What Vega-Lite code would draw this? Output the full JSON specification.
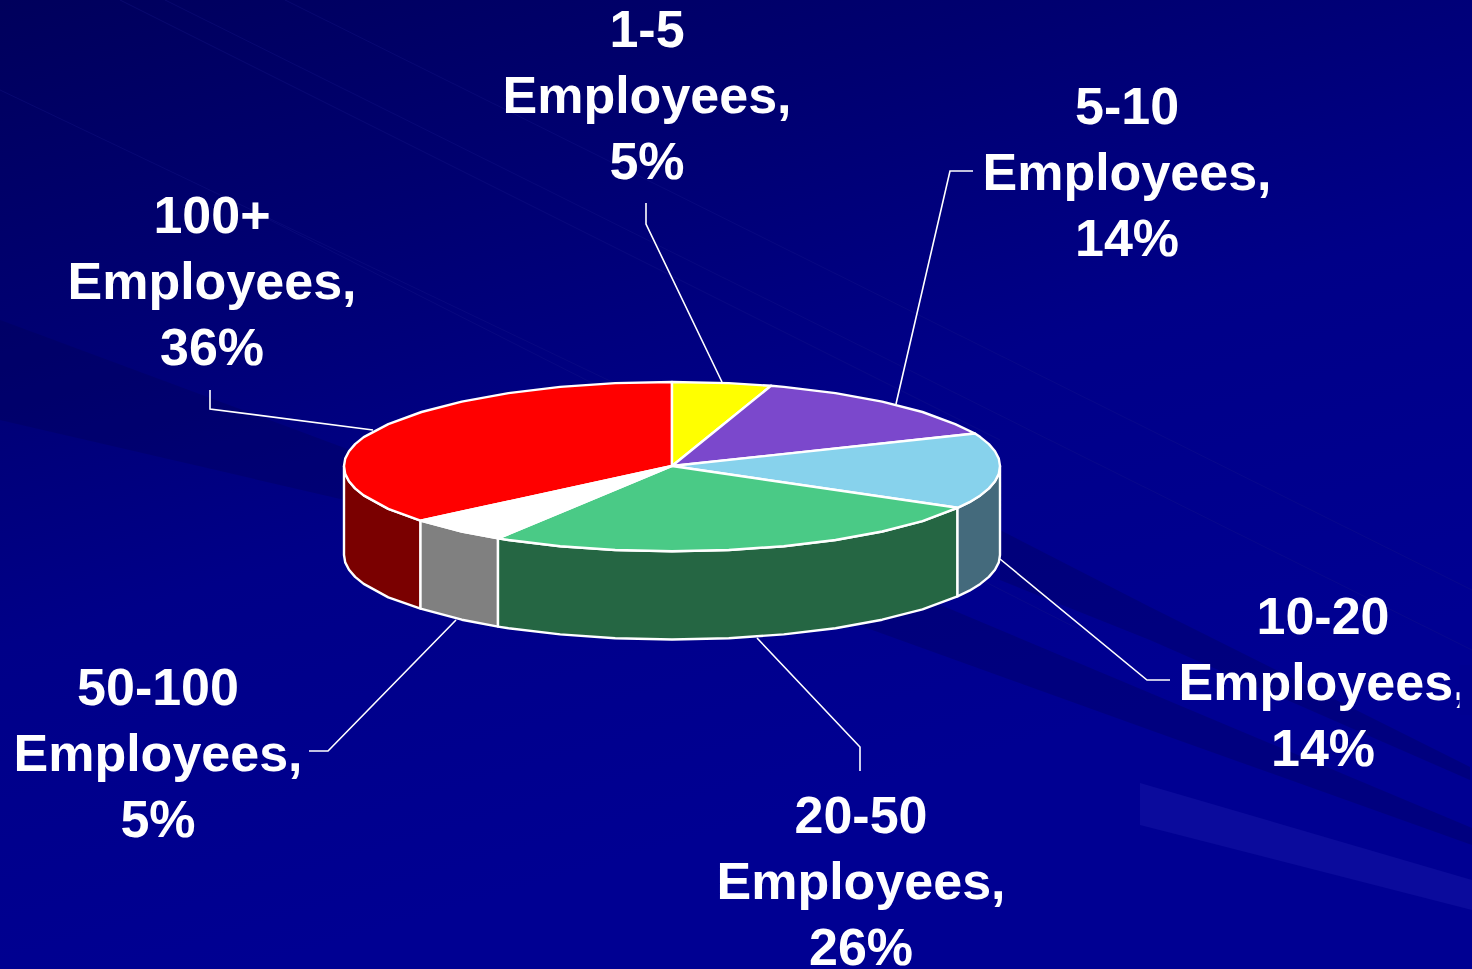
{"$schema":"https://vega.github.io/schema/vega-lite/v6.json","width":1472,"height":969,"padding":0,"autosize":{"type":"none"},"background":"#000080","view":{"stroke":null},
"config":{"axis":{"disable":true}},
"datasets":{
"backdrop":[{"x":0,"x2":1472,"y":0,"y2":969}],
"darkBands":[
{"band":"a","x":1000,"y":530},{"band":"a","x":1150,"y":607},{"band":"a","x":1470,"y":767},{"band":"a","x":1470,"y":780},{"band":"a","x":1150,"y":640},{"band":"a","x":1000,"y":580},
{"band":"b","x":700,"y":504},{"band":"b","x":1150,"y":693},{"band":"b","x":1472,"y":828},{"band":"b","x":1472,"y":845},{"band":"b","x":1150,"y":730},{"band":"b","x":700,"y":568},
{"band":"c","x":0,"y":320},{"band":"c","x":350,"y":450},{"band":"c","x":345,"y":500},{"band":"c","x":0,"y":420}
],
"lightBands":[
{"band":"a","x":1140,"y":783},{"band":"a","x":1472,"y":880},{"band":"a","x":1472,"y":910},{"band":"a","x":1140,"y":825}
],
"thinLines":[
{"line":"a","x":0,"y":90},{"line":"a","x":650,"y":400},
{"line":"b","x":120,"y":0},{"line":"b","x":1000,"y":440},
{"line":"c","x":165,"y":0},{"line":"c","x":1472,"y":650},
{"line":"d","x":285,"y":0},{"line":"d","x":1472,"y":590},
{"line":"e","x":270,"y":220},{"line":"e","x":1100,"y":640}
],
"pie":[
{"slice":"100+ side","x":344,"y":466},{"slice":"100+ side","x":345.2,"y":473.9},{"slice":"100+ side","x":349,"y":481.2},{"slice":"100+ side","x":355.1,"y":488.4},{"slice":"100+ side","x":363.7,"y":495.4},{"slice":"100+ side","x":388.3,"y":508.9},{"slice":"100+ side","x":420.5,"y":520.6},{"slice":"100+ side","x":420.5,"y":608.6},{"slice":"100+ side","x":388.3,"y":597.4},{"slice":"100+ side","x":363.7,"y":583.9},{"slice":"100+ side","x":355.1,"y":576.9},{"slice":"100+ side","x":349,"y":569.7},{"slice":"100+ side","x":345.2,"y":562.4},{"slice":"100+ side","x":344,"y":555},{"slice":"100+ side","x":344,"y":466},
{"slice":"50-100 side","x":420.5,"y":520.6},{"slice":"50-100 side","x":461.8,"y":531.5},{"slice":"50-100 side","x":498,"y":538.4},{"slice":"50-100 side","x":498,"y":626.6},{"slice":"50-100 side","x":461.8,"y":619.7},{"slice":"50-100 side","x":420.5,"y":608.6},{"slice":"50-100 side","x":420.5,"y":520.6},
{"slice":"20-50 side","x":498,"y":538.4},{"slice":"20-50 side","x":508.5,"y":540},{"slice":"20-50 side","x":560.2,"y":546.2},{"slice":"20-50 side","x":615.2,"y":550},{"slice":"20-50 side","x":672,"y":551.3},{"slice":"20-50 side","x":728.8,"y":550},{"slice":"20-50 side","x":783.8,"y":546.2},{"slice":"20-50 side","x":835.5,"y":540},{"slice":"20-50 side","x":882.2,"y":531.5},{"slice":"20-50 side","x":922.5,"y":521.1},{"slice":"20-50 side","x":957.5,"y":507.8},{"slice":"20-50 side","x":957.5,"y":596.3},{"slice":"20-50 side","x":922.5,"y":609.3},{"slice":"20-50 side","x":882.2,"y":619.7},{"slice":"20-50 side","x":835.5,"y":628.2},{"slice":"20-50 side","x":783.8,"y":634.4},{"slice":"20-50 side","x":728.8,"y":638.2},{"slice":"20-50 side","x":672,"y":639.5},{"slice":"20-50 side","x":615.2,"y":638.2},{"slice":"20-50 side","x":560.2,"y":634.4},{"slice":"20-50 side","x":508.5,"y":628.2},{"slice":"20-50 side","x":498,"y":626.6},{"slice":"20-50 side","x":498,"y":538.4},
{"slice":"10-20 side","x":957.5,"y":507.8},{"slice":"10-20 side","x":969.4,"y":502.2},{"slice":"10-20 side","x":980.3,"y":495.4},{"slice":"10-20 side","x":988.9,"y":488.4},{"slice":"10-20 side","x":995,"y":481.2},{"slice":"10-20 side","x":998.8,"y":473.9},{"slice":"10-20 side","x":1000,"y":466},{"slice":"10-20 side","x":1000,"y":555},{"slice":"10-20 side","x":998.8,"y":562.4},{"slice":"10-20 side","x":995,"y":569.7},{"slice":"10-20 side","x":988.9,"y":576.9},{"slice":"10-20 side","x":980.3,"y":583.9},{"slice":"10-20 side","x":969.4,"y":590.7},{"slice":"10-20 side","x":957.5,"y":596.3},{"slice":"10-20 side","x":957.5,"y":507.8},
{"slice":"100+","x":672,"y":466},{"slice":"100+","x":420.5,"y":520.6},{"slice":"100+","x":388.3,"y":508.9},{"slice":"100+","x":363.7,"y":495.4},{"slice":"100+","x":355.1,"y":488.4},{"slice":"100+","x":349,"y":481.2},{"slice":"100+","x":345.2,"y":473.9},{"slice":"100+","x":344,"y":466},{"slice":"100+","x":345.2,"y":458.6},{"slice":"100+","x":349,"y":451.3},{"slice":"100+","x":355.1,"y":444.1},{"slice":"100+","x":363.7,"y":437.1},{"slice":"100+","x":388.3,"y":424.1},{"slice":"100+","x":421.5,"y":412},{"slice":"100+","x":461.8,"y":401.6},{"slice":"100+","x":508.5,"y":393.1},{"slice":"100+","x":560.2,"y":386.9},{"slice":"100+","x":615.2,"y":383.1},{"slice":"100+","x":672,"y":382},{"slice":"100+","x":672,"y":466},
{"slice":"1-5","x":672,"y":466},{"slice":"1-5","x":672,"y":382},{"slice":"1-5","x":728.8,"y":383.1},{"slice":"1-5","x":771,"y":385.8},{"slice":"1-5","x":672,"y":466},
{"slice":"5-10","x":672,"y":466},{"slice":"5-10","x":771,"y":385.8},{"slice":"5-10","x":783.8,"y":386.9},{"slice":"5-10","x":835.5,"y":393.1},{"slice":"5-10","x":882.2,"y":401.6},{"slice":"5-10","x":922.5,"y":412},{"slice":"5-10","x":955.2,"y":424.1},{"slice":"5-10","x":975,"y":433.5},{"slice":"5-10","x":672,"y":466},
{"slice":"10-20","x":672,"y":466},{"slice":"10-20","x":975,"y":433.5},{"slice":"10-20","x":980.3,"y":437.1},{"slice":"10-20","x":988.9,"y":444.1},{"slice":"10-20","x":995,"y":451.3},{"slice":"10-20","x":998.8,"y":458.6},{"slice":"10-20","x":1000,"y":466},{"slice":"10-20","x":998.8,"y":473.9},{"slice":"10-20","x":995,"y":481.2},{"slice":"10-20","x":988.9,"y":488.4},{"slice":"10-20","x":980.3,"y":495.4},{"slice":"10-20","x":969.4,"y":502.2},{"slice":"10-20","x":957.5,"y":507.8},{"slice":"10-20","x":672,"y":466},
{"slice":"20-50","x":672,"y":466},{"slice":"20-50","x":957.5,"y":507.8},{"slice":"20-50","x":922.5,"y":521.1},{"slice":"20-50","x":882.2,"y":531.5},{"slice":"20-50","x":835.5,"y":540},{"slice":"20-50","x":783.8,"y":546.2},{"slice":"20-50","x":728.8,"y":550},{"slice":"20-50","x":672,"y":551.3},{"slice":"20-50","x":615.2,"y":550},{"slice":"20-50","x":560.2,"y":546.2},{"slice":"20-50","x":508.5,"y":540},{"slice":"20-50","x":498,"y":538.4},{"slice":"20-50","x":672,"y":466},
{"slice":"50-100","x":672,"y":466},{"slice":"50-100","x":498,"y":538.4},{"slice":"50-100","x":461.8,"y":531.5},{"slice":"50-100","x":420.5,"y":520.6},{"slice":"50-100","x":672,"y":466}
],
"leaders":[
{"leader":"1-5","x":646,"y":203},{"leader":"1-5","x":646,"y":224},{"leader":"1-5","x":722,"y":382},
{"leader":"5-10","x":973,"y":171},{"leader":"5-10","x":950,"y":171},{"leader":"5-10","x":896,"y":404},
{"leader":"10-20","x":1170,"y":680},{"leader":"10-20","x":1147,"y":680},{"leader":"10-20","x":1000,"y":559},
{"leader":"20-50","x":860,"y":771},{"leader":"20-50","x":860,"y":747},{"leader":"20-50","x":757,"y":638},
{"leader":"50-100","x":309,"y":751},{"leader":"50-100","x":328,"y":751},{"leader":"50-100","x":456,"y":620},
{"leader":"100+","x":210,"y":390},{"leader":"100+","x":210,"y":409},{"leader":"100+","x":373,"y":430}
],
"labels":[
{"label":"1-5\nEmployees,\n5%","x":647,"y":31},
{"label":"5-10\nEmployees,\n14%","x":1127,"y":108},
{"label":"10-20\nEmployees,\n14%","x":1323,"y":618},
{"label":"20-50\nEmployees,\n26%","x":861,"y":817},
{"label":"50-100\nEmployees,\n5%","x":158,"y":689},
{"label":"100+\nEmployees,\n36%","x":212,"y":217}
],
"edge":[{"x":1459.5,"x2":1472,"y":665,"y2":715}]
},
"encoding":{
"x":{"field":"x","type":"quantitative","scale":{"domain":[0,1472],"nice":false,"zero":false},"axis":null},
"y":{"field":"y","type":"quantitative","scale":{"domain":[969,0],"nice":false,"zero":false},"axis":null}
},
"layer":[
{"data":{"name":"backdrop"},"mark":{"type":"rect","color":{"gradient":"linear","x1":0,"y1":0,"x2":0.4,"y2":0.9,"stops":[{"offset":0,"color":"#00005c"},{"offset":0.3,"color":"#000070"},{"offset":0.62,"color":"#000088"},{"offset":1,"color":"#000092"}]}},"encoding":{"x2":{"field":"x2"},"y2":{"field":"y2"}}},
{"data":{"name":"darkBands"},"transform":[{"window":[{"op":"row_number","as":"seq"}]}],"mark":{"type":"line","fill":"#000050","fillOpacity":0.28,"strokeWidth":0},"encoding":{"detail":{"field":"band"},"order":{"field":"seq","type":"quantitative"}}},
{"data":{"name":"lightBands"},"transform":[{"window":[{"op":"row_number","as":"seq"}]}],"mark":{"type":"line","fill":"#3030c0","fillOpacity":0.22,"strokeWidth":0},"encoding":{"detail":{"field":"band"},"order":{"field":"seq","type":"quantitative"}}},
{"data":{"name":"thinLines"},"mark":{"type":"line","stroke":"#16168a","strokeWidth":1,"opacity":0.35},"encoding":{"detail":{"field":"line"}}},
{"data":{"name":"leaders"},"transform":[{"window":[{"op":"row_number","as":"seq"}]}],"mark":{"type":"line","stroke":"#ffffff","strokeWidth":1.6},"encoding":{"detail":{"field":"leader"},"order":{"field":"seq","type":"quantitative"}}},
{"data":{"name":"pie"},"transform":[{"window":[{"op":"row_number","as":"seq"}]}],"mark":{"type":"line","stroke":"#ffffff","strokeWidth":2.4,"strokeJoin":"round"},"encoding":{"order":{"field":"seq","type":"quantitative"},"fill":{"field":"slice","type":"nominal","legend":null,"scale":{"domain":["100+ side","50-100 side","20-50 side","10-20 side","100+","1-5","5-10","10-20","20-50","50-100"],"range":["#7a0000","#808080","#256643","#446a7c","#ff0000","#ffff00","#7b48cc","#87d2ec","#4aca86","#ffffff"]}}}},
{"data":{"name":"labels"},"mark":{"type":"text","font":"Liberation Sans","fontWeight":"bold","fontSize":52,"color":"#ffffff","lineBreak":"\n","lineHeight":66,"align":"center","baseline":"middle"},"encoding":{"text":{"field":"label"}}},
{"data":{"name":"edge"},"mark":{"type":"rect","color":"#000090"},"encoding":{"x2":{"field":"x2"},"y2":{"field":"y2"}}}
]}
